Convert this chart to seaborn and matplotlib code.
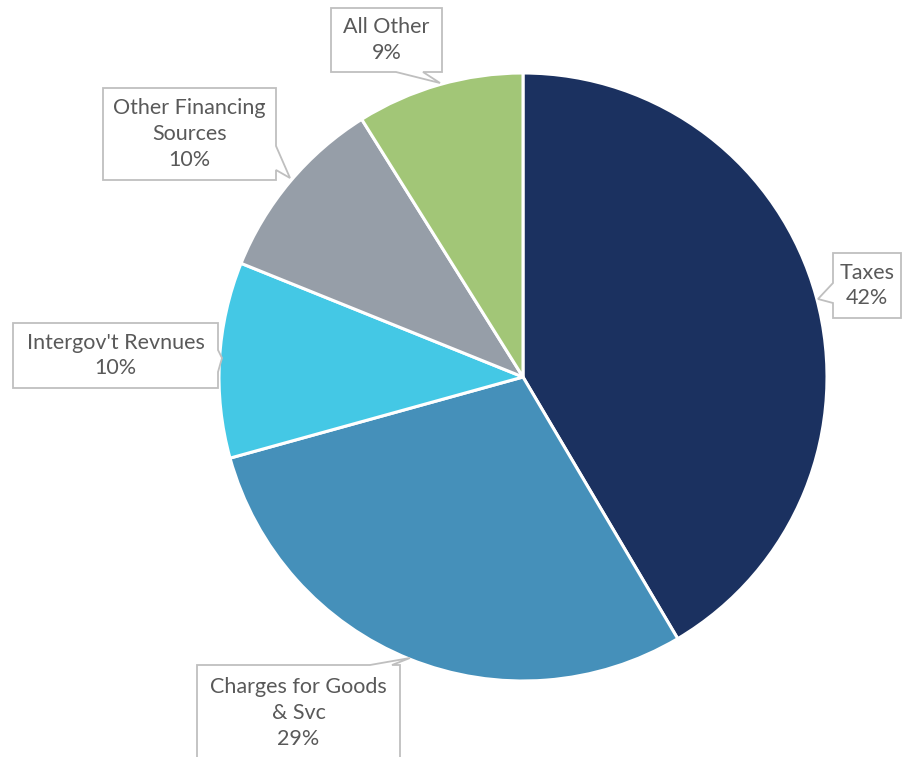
import matplotlib
matplotlib.use("Agg")
import matplotlib.pyplot as plt
from matplotlib.patches import Polygon
import seaborn as sns

sns.set_theme(style="white")
plt.rcParams['font.family'] = ['Lato', 'DejaVu Sans']

# data
categories = ['Taxes', 'Charges for Goods\n& Svc', "Intergov't Revnues",
              'Other Financing\nSources', 'All Other']
shares = [41.5, 29.2, 10.4, 10.0, 8.9]
colors = ['#1B3160', '#4590BA', '#44C8E5', '#969EA8', '#A2C677']

W, H = 902, 757
fig = plt.figure(figsize=(W / 100, H / 100), dpi=100)
ax = fig.add_axes([0, 0, 1, 1])
ax.set_xlim(0, W)
ax.set_ylim(0, H)
ax.set_aspect('equal')
ax.axis('off')

cx, cy, r = 523, H - 377, 304
ax.pie(shares, colors=colors, startangle=90, counterclock=False,
       center=(cx, cy), radius=r,
       wedgeprops=dict(edgecolor='white', linewidth=2.2))
ax.set_xlim(0, W)
ax.set_ylim(0, H)


def callout(x0, y0, x1, y1, side, a, b, tip, text, ty=None):
    # box in pixel coords (top-left origin); tail inserted on one edge
    tl, tr, br, bl = (x0, y0), (x1, y0), (x1, y1), (x0, y1)
    if side == 'bottom':
        pts = [tl, tr, br, (b, y1), tip, (a, y1), bl]
    elif side == 'right':
        pts = [tl, tr, (x1, a), tip, (x1, b), br, bl]
    elif side == 'left':
        pts = [tl, tr, br, bl, (x0, b), tip, (x0, a)]
    else:  # top
        pts = [tl, (a, y0), tip, (b, y0), tr, br, bl]
    pts = [(px, H - py) for px, py in pts]
    ax.add_patch(Polygon(pts, closed=True, facecolor='white',
                         edgecolor='#BFBFBF', linewidth=1.3, zorder=5,
                         clip_on=False))
    if ty is None:
        ty = (y0 + y1) / 2
    ax.text((x0 + x1) / 2, H - ty, text, ha='center',
            va='center', fontsize=15.5, color='#595959', zorder=6,
            linespacing=1.35)


labels = [f"{c}\n{v:.0f}%" for c, v in zip(categories, shares)]

callout(833, 253, 901, 318, 'left', 283, 303, (818, 299), labels[0])
callout(197, 665, 400, 790, 'top', 370, 392, (410, 658), labels[1], ty=713)
callout(13, 323, 218, 388, 'right', 350, 372, (222, 358), labels[2])
callout(103, 88, 276, 180, 'right', 146, 170, (290, 178), labels[3])
callout(331, 8, 442, 72, 'bottom', 396, 423, (440, 83), labels[4])

fig.savefig('out.png', dpi=100)
